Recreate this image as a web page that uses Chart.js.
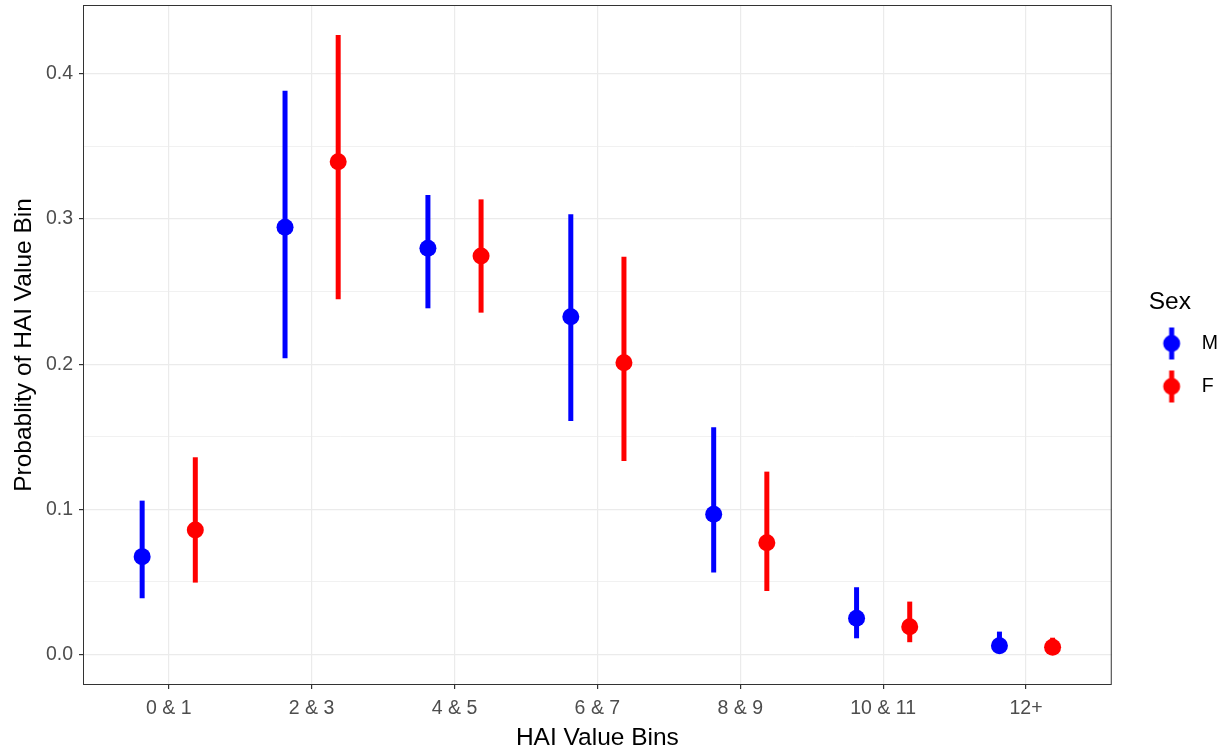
<!DOCTYPE html>
<html lang="en">
<head>
    <meta charset="UTF-8">
    <title>HAI Value Bin Probabilities by Sex</title>
    <script src="https://cdn.jsdelivr.net/npm/chart.js"></script>
    <style>
        html, body {
            margin: 0;
            padding: 0;
            background: white;
        }
        .chart-container {
            position: relative;
            width: 1227px;
            height: 752px;
        }
    </style>
</head>
<body>
    <div class="chart-container">
        <canvas id="haiChart"></canvas>
    </div>

    <script>
        // Data
        const bins = ['0 & 1', '2 & 3', '4 & 5', '6 & 7', '8 & 9', '10 & 11', '12+'];

        const maleEst  = [0.0673, 0.2943, 0.2799, 0.2327, 0.0965, 0.0248, 0.0059];
        const maleLow  = [0.0386, 0.2040, 0.2385, 0.1608, 0.0563, 0.0110, 0.0020];
        const maleHigh = [0.1059, 0.3885, 0.3166, 0.3033, 0.1565, 0.0462, 0.0156];

        const femaleEst  = [0.0857, 0.3396, 0.2745, 0.2010, 0.0769, 0.0190, 0.0048];
        const femaleLow  = [0.0494, 0.2447, 0.2355, 0.1332, 0.0436, 0.0083, 0.0015];
        const femaleHigh = [0.1358, 0.4269, 0.3136, 0.2740, 0.1259, 0.0363, 0.0114];

        const yTicks = [0, 0.05, 0.1, 0.15, 0.2, 0.25, 0.3, 0.35, 0.4];

        const dodge = 0.186;
        const maleColor = '#0000FF';
        const femaleColor = '#FF0000';
        const font = 'Liberation Sans';

        function toPoints(est, low, high, shift) {
            return est.map((v, i) => ({ x: i + 1 + shift, y: v, lo: low[i], hi: high[i] }));
        }

        // legend glyph: point with a vertical range line (drawn right of the image centre)
        function glyph(color) {
            const c = document.createElement('canvas');
            c.width = 44;
            c.height = 34;
            const g = c.getContext('2d');
            g.fillStyle = color;
            g.fillRect(27.5, 1, 5, 32);
            g.beginPath();
            g.arc(30, 17, 8.5, 0, Math.PI * 2);
            g.fill();
            return c;
        }

        const isMajor = v => Math.abs(v * 10 - Math.round(v * 10)) < 1e-6;

        // vertical ranges drawn from each point's lo/hi through the y scale
        const rangePlugin = {
            id: 'ranges',
            beforeDatasetsDraw(chart) {
                const { ctx, scales: { x, y } } = chart;
                ctx.save();
                chart.data.datasets.forEach(ds => {
                    ctx.strokeStyle = ds.backgroundColor;
                    ctx.lineWidth = 5;
                    ctx.lineCap = 'butt';
                    ds.data.forEach(p => {
                        const px = x.getPixelForValue(p.x);
                        ctx.beginPath();
                        ctx.moveTo(px, y.getPixelForValue(p.lo));
                        ctx.lineTo(px, y.getPixelForValue(p.hi));
                        ctx.stroke();
                    });
                });
                ctx.restore();
            }
        };

        // panel border like theme_bw
        const borderPlugin = {
            id: 'panelBorder',
            afterDraw(chart) {
                const { ctx, chartArea: a } = chart;
                ctx.save();
                ctx.strokeStyle = '#333333';
                ctx.lineWidth = 1;
                ctx.strokeRect(a.left + 0.5, a.top + 0.5, a.right - a.left - 1, a.bottom - a.top - 1);
                ctx.restore();
            }
        };

        const ctx = document.getElementById('haiChart').getContext('2d');
        const chart = new Chart(ctx, {
            type: 'scatter',
            data: {
                datasets: [
                    {
                        label: 'M',
                        data: toPoints(maleEst, maleLow, maleHigh, -dodge),
                        backgroundColor: maleColor,
                        borderColor: maleColor,
                        pointRadius: 8.5,
                        pointHoverRadius: 8.5,
                        borderWidth: 0
                    },
                    {
                        label: 'F',
                        data: toPoints(femaleEst, femaleLow, femaleHigh, dodge),
                        backgroundColor: femaleColor,
                        borderColor: femaleColor,
                        pointRadius: 8.5,
                        pointHoverRadius: 8.5,
                        borderWidth: 0
                    }
                ]
            },
            options: {
                responsive: true,
                maintainAspectRatio: false,
                animation: false,
                layout: {
                    autoPadding: false,
                    padding: { top: 5, right: -1, bottom: 0, left: 0 }
                },
                scales: {
                    x: {
                        type: 'linear',
                        min: 0.4,
                        max: 7.6,
                        afterBuildTicks: axis => {
                            axis.ticks = bins.map((b, i) => ({ value: i + 1 }));
                        },
                        afterFit: axis => {
                            axis.height = 67;
                            axis.paddingLeft = 0;
                            axis.paddingRight = 0;
                        },
                        ticks: {
                            callback: v => bins[Math.round(v) - 1],
                            color: '#4D4D4D',
                            font: { family: font, size: 19.5 },
                            padding: 8,
                            maxRotation: 0,
                            autoSkip: false
                        },
                        grid: {
                            color: '#EBEBEB',
                            lineWidth: 1.2,
                            tickColor: '#333333',
                            tickLength: 4
                        },
                        border: { display: false },
                        title: {
                            display: true,
                            text: 'HAI Value Bins',
                            color: '#000000',
                            font: { family: font, size: 24.5 },
                            padding: { top: 0, bottom: -1 }
                        }
                    },
                    y: {
                        min: -0.0212,
                        max: 0.4476,
                        afterBuildTicks: axis => {
                            axis.ticks = yTicks.map(v => ({ value: v }));
                        },
                        afterFit: axis => {
                            axis.width = 83;
                            axis.paddingTop = 0;
                            axis.paddingBottom = 0;
                        },
                        ticks: {
                            callback: v => isMajor(v) ? v.toFixed(1) : '',
                            color: '#4D4D4D',
                            font: { family: font, size: 19.5 },
                            padding: 6
                        },
                        grid: {
                            color: '#EBEBEB',
                            lineWidth: c => isMajor(c.tick.value) ? 1.2 : 0.7,
                            tickColor: c => isMajor(c.tick.value) ? '#333333' : 'rgba(0,0,0,0)',
                            tickLength: 4
                        },
                        border: { display: false },
                        title: {
                            display: true,
                            text: 'Probablity of HAI Value Bin',
                            color: '#000000',
                            font: { family: font, size: 24.5 },
                            padding: { top: 10, bottom: 0 }
                        }
                    }
                },
                plugins: {
                    legend: {
                        position: 'right',
                        align: 'center',
                        title: {
                            display: true,
                            text: 'Sex',
                            position: 'center',
                            color: '#000000',
                            font: { family: font, size: 24.5 },
                            padding: { top: -47.5, bottom: -9 }
                        },
                        labels: {
                            usePointStyle: true,
                            pointStyleWidth: 56.75,
                            padding: 23.5,
                            color: '#000000',
                            font: { family: font, size: 19.5 },
                            generateLabels: chart => chart.data.datasets.map((ds, i) => ({
                                text: ds.label,
                                pointStyle: glyph(ds.backgroundColor),
                                fillStyle: ds.backgroundColor,
                                strokeStyle: ds.backgroundColor,
                                lineWidth: 0,
                                fontColor: '#000000',
                                datasetIndex: i
                            }))
                        }
                    },
                    tooltip: {
                        callbacks: {
                            label: c => c.dataset.label + ': ' + c.raw.y.toFixed(3) +
                                ' [' + c.raw.lo.toFixed(3) + ', ' + c.raw.hi.toFixed(3) + ']'
                        }
                    }
                }
            },
            plugins: [rangePlugin, borderPlugin]
        });
    </script>
</body>
</html>
